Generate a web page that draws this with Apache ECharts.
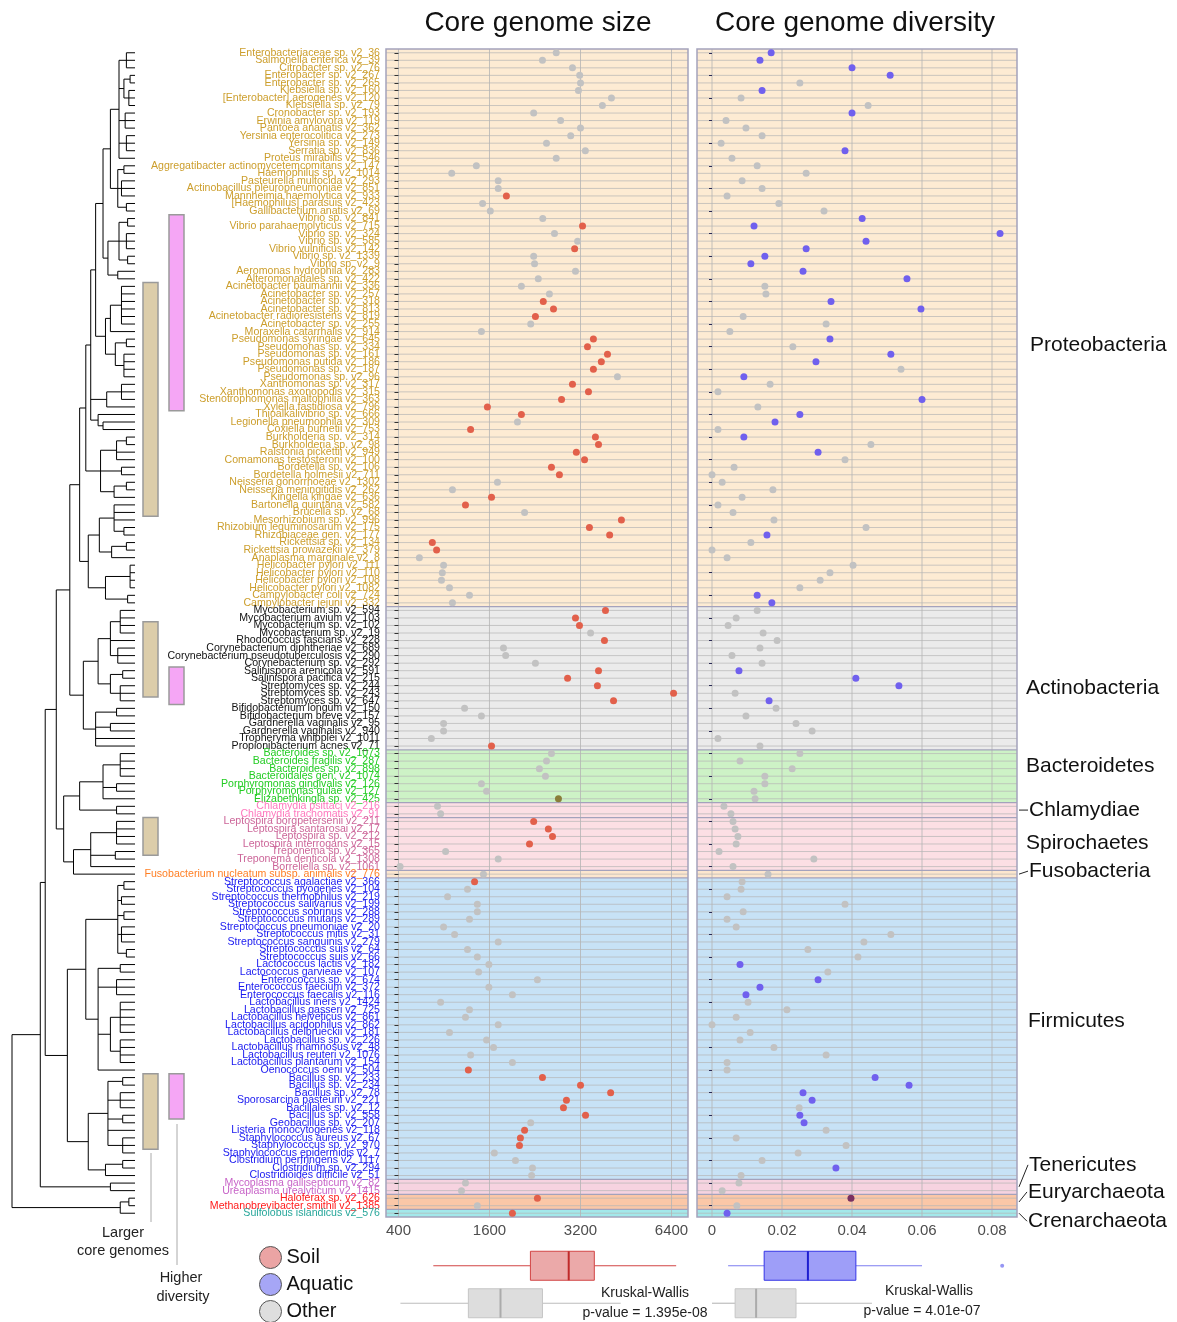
<!DOCTYPE html>
<html><head><meta charset="utf-8">
<script src="https://cdn.jsdelivr.net/npm/echarts@6/dist/echarts.min.js"></script>
<style>html,body{margin:0;padding:0;background:#fff}#c{width:1177px;height:1322px}</style>
</head><body><div id="c"></div>
<script>
const species = [
"Enterobacteriaceae sp. v2_36","Salmonella enterica v2_39","Citrobacter sp. v2_76","Enterobacter sp. v2_267","Enterobacter sp. v2_265","Klebsiella sp. v2_160","[Enterobacter] aerogenes v2_120","Klebsiella sp. v2_79","Cronobacter sp. v2_193","Erwinia amylovora v2_119",
"Pantoea ananatis v2_362","Yersinia enterocolitica v2_273","Yersinia sp. v2_149","Serratia sp. v2_836","Proteus mirabilis v2_546","Aggregatibacter actinomycetemcomitans v2_147","Haemophilus sp. v2_1014","Pasteurella multocida v2_293","Actinobacillus pleuropneumoniae v2_851","Mannheimia haemolytica v2_933",
"[Haemophilus] parasuis v2_423","Gallibacterium anatis v2_69","Vibrio sp. v2_841","Vibrio parahaemolyticus v2_715","Vibrio sp. v2_324","Vibrio sp. v2_585","Vibrio vulnificus v2_142","Vibrio sp. v2_1339","Vibrio sp. v2_9","Aeromonas hydrophila v2_283",
"Alteromonadales sp. v2_422","Acinetobacter baumannii v2_336","Acinetobacter sp. v2_257","Acinetobacter sp. v2_318","Acinetobacter sp. v2_813","Acinetobacter radioresistens v2_819","Acinetobacter sp. v2_255","Moraxella catarrhalis v2_914","Pseudomonas syringae v2_645","Pseudomonas sp. v2_334",
"Pseudomonas sp. v2_161","Pseudomonas putida v2_186","Pseudomonas sp. v2_187","Pseudomonas sp. v2_96","Xanthomonas sp. v2_317","Xanthomonas axonopodis v2_315","Stenotrophomonas maltophilia v2_363","Xylella fastidiosa v2_796","Thioalkalivibrio sp. v2_666","Legionella pneumophila v2_309",
"Coxiella burnetii v2_753","Burkholderia sp. v2_314","Burkholderia sp. v2_98","Ralstonia pickettii v2_949","Comamonas testosteroni v2_100","Bordetella sp. v2_106","Bordetella holmesii v2_711","Neisseria gonorrhoeae v2_1302","Neisseria meningitidis v2_262","Kingella kingae v2_636",
"Bartonella quintana v2_582","Brucella sp. v2_68","Mesorhizobium sp. v2_996","Rhizobium leguminosarum v2_175","Rhizobiaceae gen. v2_177","Rickettsia sp. v2_134","Rickettsia prowazekii v2_379","Anaplasma marginale v2_8","Helicobacter pylori v2_111","Helicobacter pylori v2_110",
"Helicobacter pylori v2_108","Helicobacter pylori v2_1082","Campylobacter coli v2_724","Campylobacter jejuni v2_332",
"Mycobacterium sp. v2_594","Mycobacterium avium v2_103","Mycobacterium sp. v2_102","Mycobacterium sp. v2_19","Rhodococcus fascians v2_228","Corynebacterium diphtheriae v2_689","Corynebacterium pseudotuberculosis v2_290","Corynebacterium sp. v2_292","Salinispora arenicola v2_591","Salinispora pacifica v2_215","Streptomyces sp. v2_244","Streptomyces sp. v2_243","Streptomyces sp. v2_647","Bifidobacterium longum v2_150","Bifidobacterium breve v2_157","Gardnerella vaginalis v2_95","Gardnerella vaginalis v2_940","Tropheryma whipplei v2_1011","Propionibacterium acnes v2_71",
"Bacteroides sp. v2_1073","Bacteroides fragilis v2_287","Bacteroides sp. v2_898","Bacteroidales gen. v2_1074","Porphyromonas gingivalis v2_126","Porphyromonas gulae v2_127","Elizabethkingia sp. v2_425",
"Chlamydia psittaci v2_216","Chlamydia trachomatis v2_91",
"Leptospira borgpetersenii v2_211","Leptospira santarosai v2_17","Leptospira sp. v2_212","Leptospira interrogans v2_15","Treponema sp. v2_365","Treponema denticola v2_1308","Borreliella sp. v2_1061",
"Fusobacterium nucleatum subsp. animalis v2_776",
"Streptococcus agalactiae v2_366","Streptococcus pyogenes v2_104","Streptococcus thermophilus v2_219","Streptococcus salivarius v2_199","Streptococcus sobrinus v2_288","Streptococcus mutans v2_289","Streptococcus pneumoniae v2_20","Streptococcus mitis v2_31","Streptococcus sanguinis v2_279","Streptococcus suis v2_64",
"Streptococcus suis v2_66","Lactococcus lactis v2_182","Lactococcus garvieae v2_107","Enterococcus sp. v2_674","Enterococcus faecium v2_372","Enterococcus faecalis v2_116","Lactobacillus iners v2_1424","Lactobacillus gasseri v2_725","Lactobacillus helveticus v2_861","Lactobacillus acidophilus v2_862",
"Lactobacillus delbrueckii v2_181","Lactobacillus sp. v2_226","Lactobacillus rhamnosus v2_48","Lactobacillus reuteri v2_1076","Lactobacillus plantarum v2_154","Oenococcus oeni v2_504","Bacillus sp. v2_233","Bacillus sp. v2_234","Bacillus sp. v2_78","Sporosarcina pasteurii v2_221",
"Bacillales sp. v2_12","Bacillus sp. v2_558","Geobacillus sp. v2_207","Listeria monocytogenes v2_118","Staphylococcus aureus v2_67","Staphylococcus sp. v2_970","Staphylococcus epidermidis v2_7","Clostridium perfringens v2_1117","Clostridium sp. v2_294","Clostridioides difficile v2_51",
"Mycoplasma gallisepticum v2_82","Ureaplasma urealyticum v2_1415",
"Haloferax sp. v2_626","Methanobrevibacter smithii v2_1385",
"Sulfolobus islandicus v2_576"
];
const phylumNames = ["Proteobacteria","Actinobacteria","Bacteroidetes","Chlamydiae","Spirochaetes","Fusobacteria","Firmicutes","Tenericutes","Euryarchaeota","Crenarchaeota"];
const phylumCounts = [74,19,7,2,7,1,40,2,2,1];

// core genome size (genes), one per species
const genomeSize = [
2660,2395,3010,3180,3200,3150,4050,3780,2240,2750,
3200,2970,2470,3320,2660,1310,900,1710,1710,1820,
1440,1610,2400,3250,2625,3130,3060,2240,2255,3080,
2320,2040,2525,2410,2605,2270,2190,1415,3530,3375,
3930,3750,3530,4240,3010,3400,2770,1550,2040,1980,
1200,3585,3670,3100,3300,2565,2725,1700,910,1625,
1110,2090,4370,3425,3995,670,715,550,795,780,
770,870,1180,910,3870,3080,3175,3455,3840,1780,
1810,2270,3670,2900,3640,6500,4115,1095,1415,795,
795,660,1625,2565,2470,2340,2450,1415,1530,2705,
725,760,2240,2505,2585,2170,820,1710,410,1460,
1275,1145,845,1330,1330,1180,795,940,1710,1145,
1330,1585,1355,2305,1585,1905,760,1180,1110,1710,
870,1530,1650,1200,1905,1160,2395,3200,4025,2875,
2810,3325,2190,2090,2025,2010,1660,1950,2220,2205,
1110,1045,2305,1330,1905];
// s = soil, o = other, x = mixed
const sizeGroup = "oooooooooo"+"ooooooooos"+"ooosoosooo"+"ooosssooss"+"sssossssso"+"sssssssoos"+"sosssssooo"+"oooosssoso"+"oosssssooo"+"oosoooooox"+"oossssoooo"+"sooooooooo"+"oooooooooo"+"ooooosssss"+"ssosssoooo"+"oosos";

// core genome diversity
const diversity = [
0.0169,0.0137,0.0400,0.0509,0.0251,0.0143,0.0083,0.0446,0.0400,0.0040,
0.0097,0.0143,0.0026,0.0380,0.0057,0.0129,0.0269,0.0086,0.0143,0.0043,
0.0191,0.0320,0.0429,0.0120,0.0823,0.0440,0.0269,0.0151,0.0111,0.0260,
0.0557,0.0151,0.0154,0.0340,0.0597,0.0089,0.0326,0.0051,0.0337,0.0231,
0.0511,0.0297,0.0540,0.0091,0.0166,0.0017,0.0600,0.0131,0.0251,0.0180,
0.0017,0.0091,0.0454,0.0303,0.0380,0.0063,0.0000,0.0029,0.0174,0.0086,
0.0017,0.0060,0.0177,0.0440,0.0157,0.0111,0.0000,0.0043,0.0403,0.0337,
0.0309,0.0251,0.0129,0.0171,0.0129,0.0069,0.0046,0.0146,0.0186,0.0137,
0.0057,0.0143,0.0077,0.0411,0.0534,0.0066,0.0163,0.0183,0.0097,0.0240,
0.0286,0.0017,0.0137,0.0251,0.0080,0.0229,0.0151,0.0151,0.0120,0.0123,
0.0034,0.0054,0.0060,0.0066,0.0074,0.0069,0.0020,0.0291,0.0060,0.0160,
0.0086,0.0083,0.0043,0.0380,0.0089,0.0043,0.0069,0.0511,0.0434,0.0274,
0.0417,0.0080,0.0331,0.0303,0.0137,0.0097,0.0103,0.0214,0.0069,0.0000,
0.0109,0.0080,0.0177,0.0326,0.0043,0.0043,0.0466,0.0563,0.0260,0.0286,
0.0249,0.0251,0.0263,0.0326,0.0069,0.0383,0.0246,0.0143,0.0354,0.0083,
0.0077,0.0029,0.0397,0.0071,0.0043];
// a = aquatic, o = other, p = mixed
const divGroup = "aaaaoaooao"+"oooaoooooo"+"ooaaaaaaaa"+"aooaaoooao"+"aaoaooaoaa"+"oaoaoooooo"+"ooooaooooo"+"ooaaoooooo"+"ooaaaoaooo"+"oooooooooo"+"oooooooooo"+"oooooooooo"+"oaoaaaoooo"+"ooooooaaaa"+"oaaoooooao"+"oopoa";

const sizeTicks = [400,1600,3200,6400];
const divTicks = [0,0.02,0.04,0.06,0.08];

// boxplots: [min, Q1, median, Q3, max]
const soilSizeBox  = [680,2185,2925,3555,6630];
const otherSizeBox = [412,1160,1740,2395,4345];
const aquaticDivBox = [0.0046,0.0149,0.0274,0.0411,0.0600];
const otherDivBox   = [0.0000,0.0066,0.0126,0.0240,0.0457];
const aquaticDivOutliers = [0.0829];
const kruskalSize = "1.395e-08";
const kruskalDiv = "4.01e-07";

// highlighted clades (first row, last row; 1-based)
const largerCoreClades = [[32,62],[77,86],[103,107],[137,146]];
const higherDivClades  = [[23,48],[83,87],[137,142]];

// dendrogram clades: [nodeDepth, children...]; leaves are row numbers (1-based)
const cladeENT = [0.87,[0.93,1,2,3],[0.91,[0.96,4,5],[0.95,6,7,8]],[0.92,9,10,11],[0.93,12,13,14],15];
const cladePAST = [0.86,[0.91,16,17],[0.89,18,19,20],[0.93,21,22]];
const cladeVIB = [0.78,[0.87,[0.94,23,24],[0.93,25,26,27],[0.94,28,29]],[0.86,30,31]];
const cladeMORPS = [0.76,[0.80,[0.89,32,33,34,35,36,37],38],[0.84,[0.93,39,40],[0.91,41,42,43,44]]];
const cladeXAN = [0.77,[0.89,45,46,47],48];
const cladeLEG = [0.70,49,[0.74,50,51]];
const cladeBETA = [0.72,[0.85,[0.93,52,53],54,55],[0.89,56,57],[0.83,[0.93,58,59],60]];
const cladeALPHAEPS = [0.62,[0.71,[0.83,61,62,63,[0.91,64,65]],[0.81,[0.93,66,67],68]],[0.76,[0.96,69,70,71,72],[0.94,73,74]]];
const cladeGAM = [0.64,[0.68,[0.74,[0.80,cladeENT,cladePAST],cladeVIB],cladeMORPS],cladeXAN,cladeLEG];
const cladePROTEO = [0.55,[0.60,cladeGAM,cladeBETA],cladeALPHAEPS];
const cladeACTINO = [0.58,[0.70,[0.80,[0.88,75,76,77,78],79,[0.86,80,81,82]],[0.80,[0.90,83,84],[0.88,85,86,87]]],[0.68,[0.85,88,89],[0.80,90,91],92,93]];
const cladeBCS = [0.42,[0.55,[0.74,[0.88,94,95,96,97],[0.85,98,99],100],[0.85,101,102]],[0.50,[0.64,[0.85,103,104,105,106],[0.84,107,108],109],110]];
const cladeSTREP = [0.86,[0.91,111,112],[0.89,113,114],[0.91,115,116],[0.89,117,118,119],[0.93,120,121]];
const cladeLACTO = [0.70,[0.88,122,123],[0.85,124,125,126],[0.80,[0.88,127,128,129,130,131],[0.88,132,133,134,135]],136];
const cladeBACCLOS = [0.62,[0.78,[0.90,137,138],[0.88,139,140,141],[0.90,142,143],144,[0.90,145,146,147]],[0.76,[0.90,148,149],150]];
const cladeFIRM = [0.45,[0.60,cladeSTREP,cladeLACTO],cladeBACCLOS];
const cladeTEN = [0.80,151,152];
const cladeARCH = [0.88,[0.95,153,154],155];
const tree = [0,[0.23,[0.27,[0.36,[0.47,cladePROTEO,cladeACTINO],cladeBCS],cladeFIRM],cladeTEN],cladeARCH];

// ---------- styles ----------
const FONT = "'Liberation Sans', Arial, sans-serif";
const labelColors = ['#CC9E2C','#111111','#22CC22','#FF78BE','#CC6699','#FF7F24','#1A1AF0','#C864C8','#FF1A1A','#26A69A'];
const bandColors  = ['#FDEBD3','#EBEBEB','#CDF2C6','#FCDFE4','#FCDFE4','#FCE6CE','#C7E2F6','#F6D3E0','#FBC7A7','#A3E8EA'];
const phylumLabelStyle = [
 {dx:13,dy:17},{dx:9,dy:10},{dx:9,dy:-10},{dx:12,dy:0,lead:true},{dx:9,dy:-1},
 {dx:12,dy:-3,lead:true},{dx:11,dy:-7},{dx:12,dy:-22,lead:true},{dx:11,dy:-10,lead:true},{dx:11,dy:8,lead:true}];
const dotColors = {s:'#E2604B', o:'#C2C2C2', x:'#8A7D3A', a:'#7060EE', p:'#7A3060'};

const N = species.length;
const rowPhylum = [], phylumStart = [];
let acc = 0;
phylumCounts.forEach((c,p)=>{ phylumStart.push(acc); for(let i=0;i<c;i++) rowPhylum.push(p); acc += c; });

function toAxis(v){ // tick labels are evenly spaced; log interpolation between them
  const t = sizeTicks; let i = 0;
  while (i < t.length-2 && v >= t[i+1]) i++;
  return i + Math.log(v/t[i]) / Math.log(t[i+1]/t[i]);
}

// tree layout
const segs = [];
function layout(node){
  if (typeof node === 'number') return {x:1, y:node-1};
  const x = node[0];
  const kids = node.slice(1).map(layout);
  const ys = kids.map(k=>k.y);
  const y0 = Math.min(...ys), y1 = Math.max(...ys);
  kids.forEach(k=>segs.push([x,k.y,k.x,k.y]));
  if (y1 > y0) segs.push([x,y0,x,y1]);
  return {x:x, y:(y0+y1)/2};
}
layout(tree);

function pts(vals, groups, code, conv){
  const out = [];
  vals.forEach((v,i)=>{ if (groups[i]===code) out.push([conv(v), i]); });
  return out;
}
const ident = v=>v;

function bgRender(xTicksAxis){
  return function(params, api){
    const cs = params.coordSys; const ch = [];
    const bh = api.size([0,1])[1];
    phylumCounts.forEach((c,p)=>{
      const y0 = api.coord([0, phylumStart[p]])[1] - bh/2;
      const y1 = api.coord([0, phylumStart[p]+c-1])[1] + bh/2;
      ch.push({type:'rect', shape:{x:cs.x, y:y0, width:cs.width, height:y1-y0}, style:{fill:bandColors[p]}});
    });
    xTicksAxis.forEach(tv=>{
      const x = api.coord([tv,0])[0];
      ch.push({type:'line', shape:{x1:x,y1:cs.y,x2:x,y2:cs.y+cs.height}, style:{stroke:'#B4B4B4', lineWidth:0.8}});
    });
    for (let i=0;i<N;i++){
      const y = api.coord([0,i])[1];
      ch.push({type:'line', shape:{x1:cs.x,y1:y,x2:cs.x+cs.width,y2:y}, style:{stroke:'#B4B4B4', lineWidth:0.7}});
    }
    phylumCounts.forEach((c,p)=>{
      if (p===0) return;
      const y = api.coord([0, phylumStart[p]])[1] - bh/2;
      ch.push({type:'line', shape:{x1:cs.x,y1:y,x2:cs.x+cs.width,y2:y}, style:{stroke:'#A4A2BC', lineWidth:1.2}});
    });
    ch.push({type:'rect', shape:{x:cs.x, y:cs.y, width:cs.width, height:cs.height}, style:{fill:'none', stroke:'#A4A2BC', lineWidth:1.5}});
    return {type:'group', children:ch};
  };
}

const boxStyles = [
  {fill:'#EBA9A9', stroke:'#D24545', whisker:'#D24545', median:'#C02A2A'},
  {fill:'#DDDDDD', stroke:'#C6C6C6', whisker:'#BDBDBD', median:'#ABABAB'},
  {fill:'#9E9EF8', stroke:'#3434E6', whisker:'#7C7CF0', median:'#1E1ED0'}
];
function boxRender(params, api){
  const row = api.value(5), st = boxStyles[api.value(6)];
  const c = v=>api.coord([v,row]);
  const y = c(api.value(2))[1], hh = 14.5;
  const xmin=c(api.value(0))[0], q1=c(api.value(1))[0], md=c(api.value(2))[0], q3=c(api.value(3))[0], xmax=c(api.value(4))[0];
  return {type:'group', children:[
    {type:'line', shape:{x1:xmin,y1:y,x2:q1,y2:y}, style:{stroke:st.whisker,lineWidth:1.2}},
    {type:'line', shape:{x1:q3,y1:y,x2:xmax,y2:y}, style:{stroke:st.whisker,lineWidth:1.2}},
    {type:'rect', shape:{x:q1,y:y-hh,width:q3-q1,height:2*hh}, style:{fill:st.fill,stroke:st.stroke,lineWidth:1}},
    {type:'line', shape:{x1:md,y1:y-hh,x2:md,y2:y+hh}, style:{stroke:st.median,lineWidth:2}}
  ]};
}

const GT = 49, GH = 1168;
const chart = echarts.init(document.getElementById('c'));
const catData = species.map((s,i)=>({value:s, textStyle:{color:labelColors[rowPhylum[i]]}}));

const option = {
  animation:false,
  textStyle:{fontFamily:FONT},
  grid:[
    {left:386, top:GT, width:302, height:GH},
    {left:697, top:GT, width:320, height:GH},
    {left:12, top:GT, width:123, height:GH},
    {left:386, top:1247, width:302, height:78},
    {left:697, top:1247, width:320, height:78}
  ],
  xAxis:[
    {gridIndex:0, type:'value', min:-0.137, max:3.181, splitLine:{show:false}, axisLine:{show:false}, axisTick:{show:false},
     axisLabel:{customValues:[0,1,2,3], formatter:v=>String(sizeTicks[Math.round(v)]), fontSize:15, color:'#4D4D4D', margin:6}},
    {gridIndex:1, type:'value', min:-0.00429, max:0.08714, splitLine:{show:false}, axisLine:{show:false}, axisTick:{show:false},
     axisLabel:{customValues:divTicks, formatter:v=>v===0?'0':v.toFixed(2), fontSize:15, color:'#4D4D4D', margin:6}},
    {gridIndex:2, type:'value', min:0, max:1, show:false},
    {gridIndex:3, type:'value', min:-0.137, max:3.181, show:false},
    {gridIndex:4, type:'value', min:-0.00429, max:0.08714, show:false}
  ],
  yAxis:[
    {gridIndex:0, type:'category', inverse:true, data:catData, axisLine:{show:false},
     axisTick:{show:true, alignWithLabel:true, length:4, lineStyle:{color:'#333'}},
     axisLabel:{interval:0, fontSize:10.6, margin:6, fontFamily:FONT}, splitLine:{show:false}},
    {gridIndex:1, type:'category', inverse:true, data:species, axisLine:{show:false},
     axisTick:{show:true, alignWithLabel:true, length:3, lineStyle:{color:'#2A2A55'}},
     axisLabel:{show:false}, splitLine:{show:false}},
    {gridIndex:2, type:'value', inverse:true, min:-0.5, max:N-0.5, show:false},
    {gridIndex:3, type:'category', inverse:true, data:['Soil','Other'], show:false},
    {gridIndex:4, type:'category', inverse:true, data:['Aquatic','Other'], show:false}
  ],
  legend:{orient:'vertical', left:259, top:1246, height:120, padding:0, itemWidth:22, itemHeight:22, itemGap:4, icon:'circle', selectedMode:false,
    textStyle:{fontSize:20, color:'#111', fontFamily:FONT},
    data:[
      {name:'Soil', itemStyle:{color:'#EBA4A4', borderColor:'#555', borderWidth:1}},
      {name:'Aquatic', itemStyle:{color:'#A6A6F6', borderColor:'#555', borderWidth:1}},
      {name:'Other', itemStyle:{color:'#DEDEDE', borderColor:'#555', borderWidth:1}}
    ]},
  series:[
    {type:'custom', name:'bg0', xAxisIndex:0, yAxisIndex:0, data:[[0,0]], renderItem:bgRender(sizeTicks.map((_,i)=>i)), silent:true, z:0},
    {type:'custom', name:'bg1', xAxisIndex:1, yAxisIndex:1, data:[[0,0]], renderItem:bgRender(divTicks), silent:true, z:0},
    {type:'scatter', name:'Other', xAxisIndex:0, yAxisIndex:0, symbolSize:7, z:3, itemStyle:{color:dotColors.o, opacity:1}, data:pts(genomeSize,sizeGroup,'o',toAxis)},
    {type:'scatter', name:'Soil', xAxisIndex:0, yAxisIndex:0, symbolSize:7, z:3, itemStyle:{color:dotColors.s, opacity:1}, data:pts(genomeSize,sizeGroup,'s',toAxis)},
    {type:'scatter', name:'Mixed size', xAxisIndex:0, yAxisIndex:0, symbolSize:7, z:3, itemStyle:{color:dotColors.x, opacity:1}, data:pts(genomeSize,sizeGroup,'x',toAxis)},
    {type:'scatter', name:'Other', xAxisIndex:1, yAxisIndex:1, symbolSize:7, z:3, itemStyle:{color:dotColors.o, opacity:1}, data:pts(diversity,divGroup,'o',ident)},
    {type:'scatter', name:'Aquatic', xAxisIndex:1, yAxisIndex:1, symbolSize:7, z:3, itemStyle:{color:dotColors.a, opacity:1}, data:pts(diversity,divGroup,'a',ident)},
    {type:'scatter', name:'Mixed div', xAxisIndex:1, yAxisIndex:1, symbolSize:7, z:3, itemStyle:{color:dotColors.p, opacity:1}, data:pts(diversity,divGroup,'p',ident)},
    {type:'custom', name:'tree', xAxisIndex:2, yAxisIndex:2, data:segs, encode:{x:[0,2], y:[1,3]}, silent:true, z:2,
     renderItem:(params,api)=>{
       const p1 = api.coord([api.value(0),api.value(1)]), p2 = api.coord([api.value(2),api.value(3)]);
       return {type:'line', shape:{x1:p1[0],y1:p1[1],x2:p2[0],y2:p2[1]}, style:{stroke:'#000', lineWidth:1}};
     }},
    {type:'custom', name:'clades', xAxisIndex:0, yAxisIndex:0, silent:true, z:4, clip:false,
     data:largerCoreClades.map(r=>[r[0]-1,r[1]-1,0]).concat(higherDivClades.map(r=>[r[0]-1,r[1]-1,1])),
     encode:{y:[0,1]},
     renderItem:(params,api)=>{
       const bh = api.size([0,1])[1];
       const y0 = api.coord([0,api.value(0)])[1]-bh/2, y1 = api.coord([0,api.value(1)])[1]+bh/2;
       const t = api.value(2);
       return {type:'rect', shape:{x: t===0?143:169, y:y0, width:15, height:y1-y0},
               style:{fill: t===0?'#DCCDAA':'#F5A6F5', stroke:'#9A9A9A', lineWidth:1.5}};
     }},
    {type:'custom', name:'phyla', xAxisIndex:1, yAxisIndex:1, data:[[0,0]], silent:true, z:5, clip:false,
     renderItem:(params,api)=>{
       const cs = params.coordSys, bh = api.size([0,1])[1], ch = [];
       const xr = cs.x + cs.width;
       phylumNames.forEach((nm,p)=>{
         const y0 = api.coord([0,phylumStart[p]])[1]-bh/2;
         const y1 = api.coord([0,phylumStart[p]+phylumCounts[p]-1])[1]+bh/2;
         const yc = (y0+y1)/2, st = phylumLabelStyle[p], ly = yc + st.dy;
         if (st.lead) ch.push({type:'line', shape:{x1:xr+2,y1:yc,x2:xr+st.dx-1,y2:ly}, style:{stroke:'#222', lineWidth:1}});
         ch.push({type:'text', x:xr+st.dx, y:ly, style:{text:nm, fontSize:21, fontFamily:FONT, fill:'#111', align:'left', verticalAlign:'middle'}});
       });
       return {type:'group', children:ch};
     }},
    {type:'custom', name:'box size', xAxisIndex:3, yAxisIndex:3, silent:true, z:3, clip:false,
     data:[soilSizeBox.map(toAxis).concat([0,0]), otherSizeBox.map(toAxis).concat([1,1])],
     encode:{x:[0,1,2,3,4], y:5}, renderItem:boxRender},
    {type:'custom', name:'box div', xAxisIndex:4, yAxisIndex:4, silent:true, z:3, clip:false,
     data:[aquaticDivBox.concat([0,2]), otherDivBox.concat([1,1])],
     encode:{x:[0,1,2,3,4], y:5}, renderItem:boxRender},
    {type:'scatter', name:'outliers', xAxisIndex:4, yAxisIndex:4, symbolSize:4, z:4, silent:true,
     itemStyle:{color:'#7C7CF0'}, data:aquaticDivOutliers.map(v=>[v,0])}
  ],
  graphic:[
    {type:'text', x:538, y:23, style:{text:'Core genome size', fontSize:28, fontFamily:FONT, fill:'#111', align:'center', verticalAlign:'middle'}},
    {type:'text', x:855, y:23, style:{text:'Core genome diversity', fontSize:28, fontFamily:FONT, fill:'#111', align:'center', verticalAlign:'middle'}},
    {type:'line', shape:{x1:151,y1:1153,x2:151,y2:1222}, style:{stroke:'#AAAAAA', lineWidth:1}},
    {type:'line', shape:{x1:177,y1:1124,x2:177,y2:1265}, style:{stroke:'#AAAAAA', lineWidth:1}},
    {type:'text', x:123, y:1233, style:{text:'Larger', fontSize:14.5, fontFamily:FONT, fill:'#222', align:'center', verticalAlign:'middle'}},
    {type:'text', x:123, y:1251, style:{text:'core genomes', fontSize:14.5, fontFamily:FONT, fill:'#222', align:'center', verticalAlign:'middle'}},
    {type:'text', x:181, y:1278, style:{text:'Higher', fontSize:14.5, fontFamily:FONT, fill:'#222', align:'center', verticalAlign:'middle'}},
    {type:'text', x:183, y:1297, style:{text:'diversity', fontSize:14.5, fontFamily:FONT, fill:'#222', align:'center', verticalAlign:'middle'}},
    {type:'text', x:645, y:1293, style:{text:'Kruskal-Wallis', fontSize:14, fontFamily:FONT, fill:'#222', align:'center', verticalAlign:'middle'}},
    {type:'text', x:645, y:1313, style:{text:'p-value = '+kruskalSize, fontSize:14, fontFamily:FONT, fill:'#222', align:'center', verticalAlign:'middle'}},
    {type:'text', x:929, y:1291, style:{text:'Kruskal-Wallis', fontSize:14, fontFamily:FONT, fill:'#222', align:'center', verticalAlign:'middle'}},
    {type:'text', x:922, y:1311, style:{text:'p-value = '+kruskalDiv, fontSize:14, fontFamily:FONT, fill:'#222', align:'center', verticalAlign:'middle'}}
  ]
};
chart.setOption(option);
</script>
</body></html>
